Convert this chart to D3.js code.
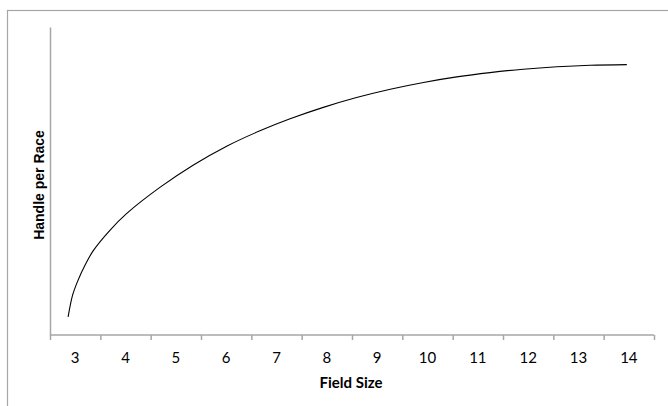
<!DOCTYPE html>
<html>
<head>
<meta charset="utf-8">
<script src="https://cdn.jsdelivr.net/npm/d3@7"></script>
<style>
  body { margin: 0; background: #fff; }
  svg text { font-family: Lato, "Open Sans", sans-serif; fill: #000; }
</style>
</head>
<body>
<div id="chart"></div>
<script>
// field sizes shown on the axis
const fieldSizes = [3, 4, 5, 6, 7, 8, 9, 10, 11, 12, 13, 14]

// curve points (handle per race, arbitrary units)
const curveX = [2.86, 2.95, 3.05, 3.2, 3.36, 3.69, 4.02, 4.69, 5.35, 6.01, 6.67, 7.27, 7.93, 8.59, 9.26, 9.92, 10.58, 11.24, 11.9, 12.57, 13.23, 13.96]
const curveY = [59, 130, 175, 228, 274, 340, 394, 480, 552, 613, 663, 702, 739, 771, 798, 820, 838, 852, 863, 871, 876, 878]

const fullWidth = 668,
  fullHeight = 406,
  margin = { top: 27, right: 14, bottom: 71, left: 50 },
  width = fullWidth - margin.left - margin.right,
  height = fullHeight - margin.top - margin.bottom

const root = d3.select('#chart')
  .append('svg')
    .attr('width', fullWidth)
    .attr('height', fullHeight)

// outer chart frame (runs off the right and bottom edges)
root.append('rect')
  .attr('x', 7.5)
  .attr('y', 10.5)
  .attr('width', fullWidth + 20)
  .attr('height', fullHeight + 20)
  .attr('fill', 'none')
  .attr('stroke', '#a6a6a6')
  .attr('stroke-width', 1.2)

const svg = root.append('g')
  .attr('transform', `translate(${margin.left}, ${margin.top})`)

const xScale = d3.scaleLinear()
  .domain([fieldSizes[0] - 0.5, fieldSizes[fieldSizes.length - 1] + 0.5])
  .range([0, width])

const yScale = d3.scaleLinear()
  .domain([0, 1000])
  .range([height, 0])

// x axis: ticks on category boundaries, labels centred
const bounds = fieldSizes.map(d => d - 0.5).concat([fieldSizes[fieldSizes.length - 1] + 0.5])
const xAxis = svg.append('g')
  .attr('transform', `translate(0, ${height})`)
  .call(d3.axisBottom(xScale).tickValues(bounds).tickSize(5).tickFormat(''))
xAxis.select('.domain').attr('stroke', '#a6a6a6').attr('stroke-width', 1.5)
  .attr('d', `M0,0H${width}`)
xAxis.selectAll('.tick line').attr('stroke', '#a6a6a6').attr('stroke-width', 1.5)

svg.append('g')
  .selectAll('text')
  .data(fieldSizes)
  .enter()
  .append('text')
  .attr('x', d => xScale(d))
  .attr('y', height + 28)
  .attr('text-anchor', 'middle')
  .style('font-size', '15px')
  .text(d => d)

// y axis: plain line, no ticks
const yAxis = svg.append('g')
  .call(d3.axisLeft(yScale).tickValues([]).tickSizeOuter(0))
yAxis.select('.domain').attr('stroke', '#a6a6a6').attr('stroke-width', 1.5)

// axis titles
svg.append('text')
  .attr('x', width / 2 - 1)
  .attr('y', height + 53)
  .attr('text-anchor', 'middle')
  .style('font-size', '15px')
  .style('font-weight', 'bold')
  .text('Field Size')

svg.append('text')
  .attr('transform', `translate(${-6}, ${158}) rotate(-90)`)
  .attr('text-anchor', 'middle')
  .style('font-family', '"Liberation Sans", Arial, sans-serif')
  .style('font-size', '14px')
  .style('font-weight', 'bold')
  .text('Handle per Race')

const points = curveX.map((x, i) => ({ x, y: curveY[i] }))

const line = d3.line()
  .x(d => xScale(d.x))
  .y(d => yScale(d.y))
  .curve(d3.curveCatmullRom.alpha(0.5))

svg.append('path')
  .datum(points)
  .attr('d', line)
  .style('stroke', '#000')
  .style('stroke-width', 1.1)
  .style('fill', 'none')
</script>
</body>
</html>
